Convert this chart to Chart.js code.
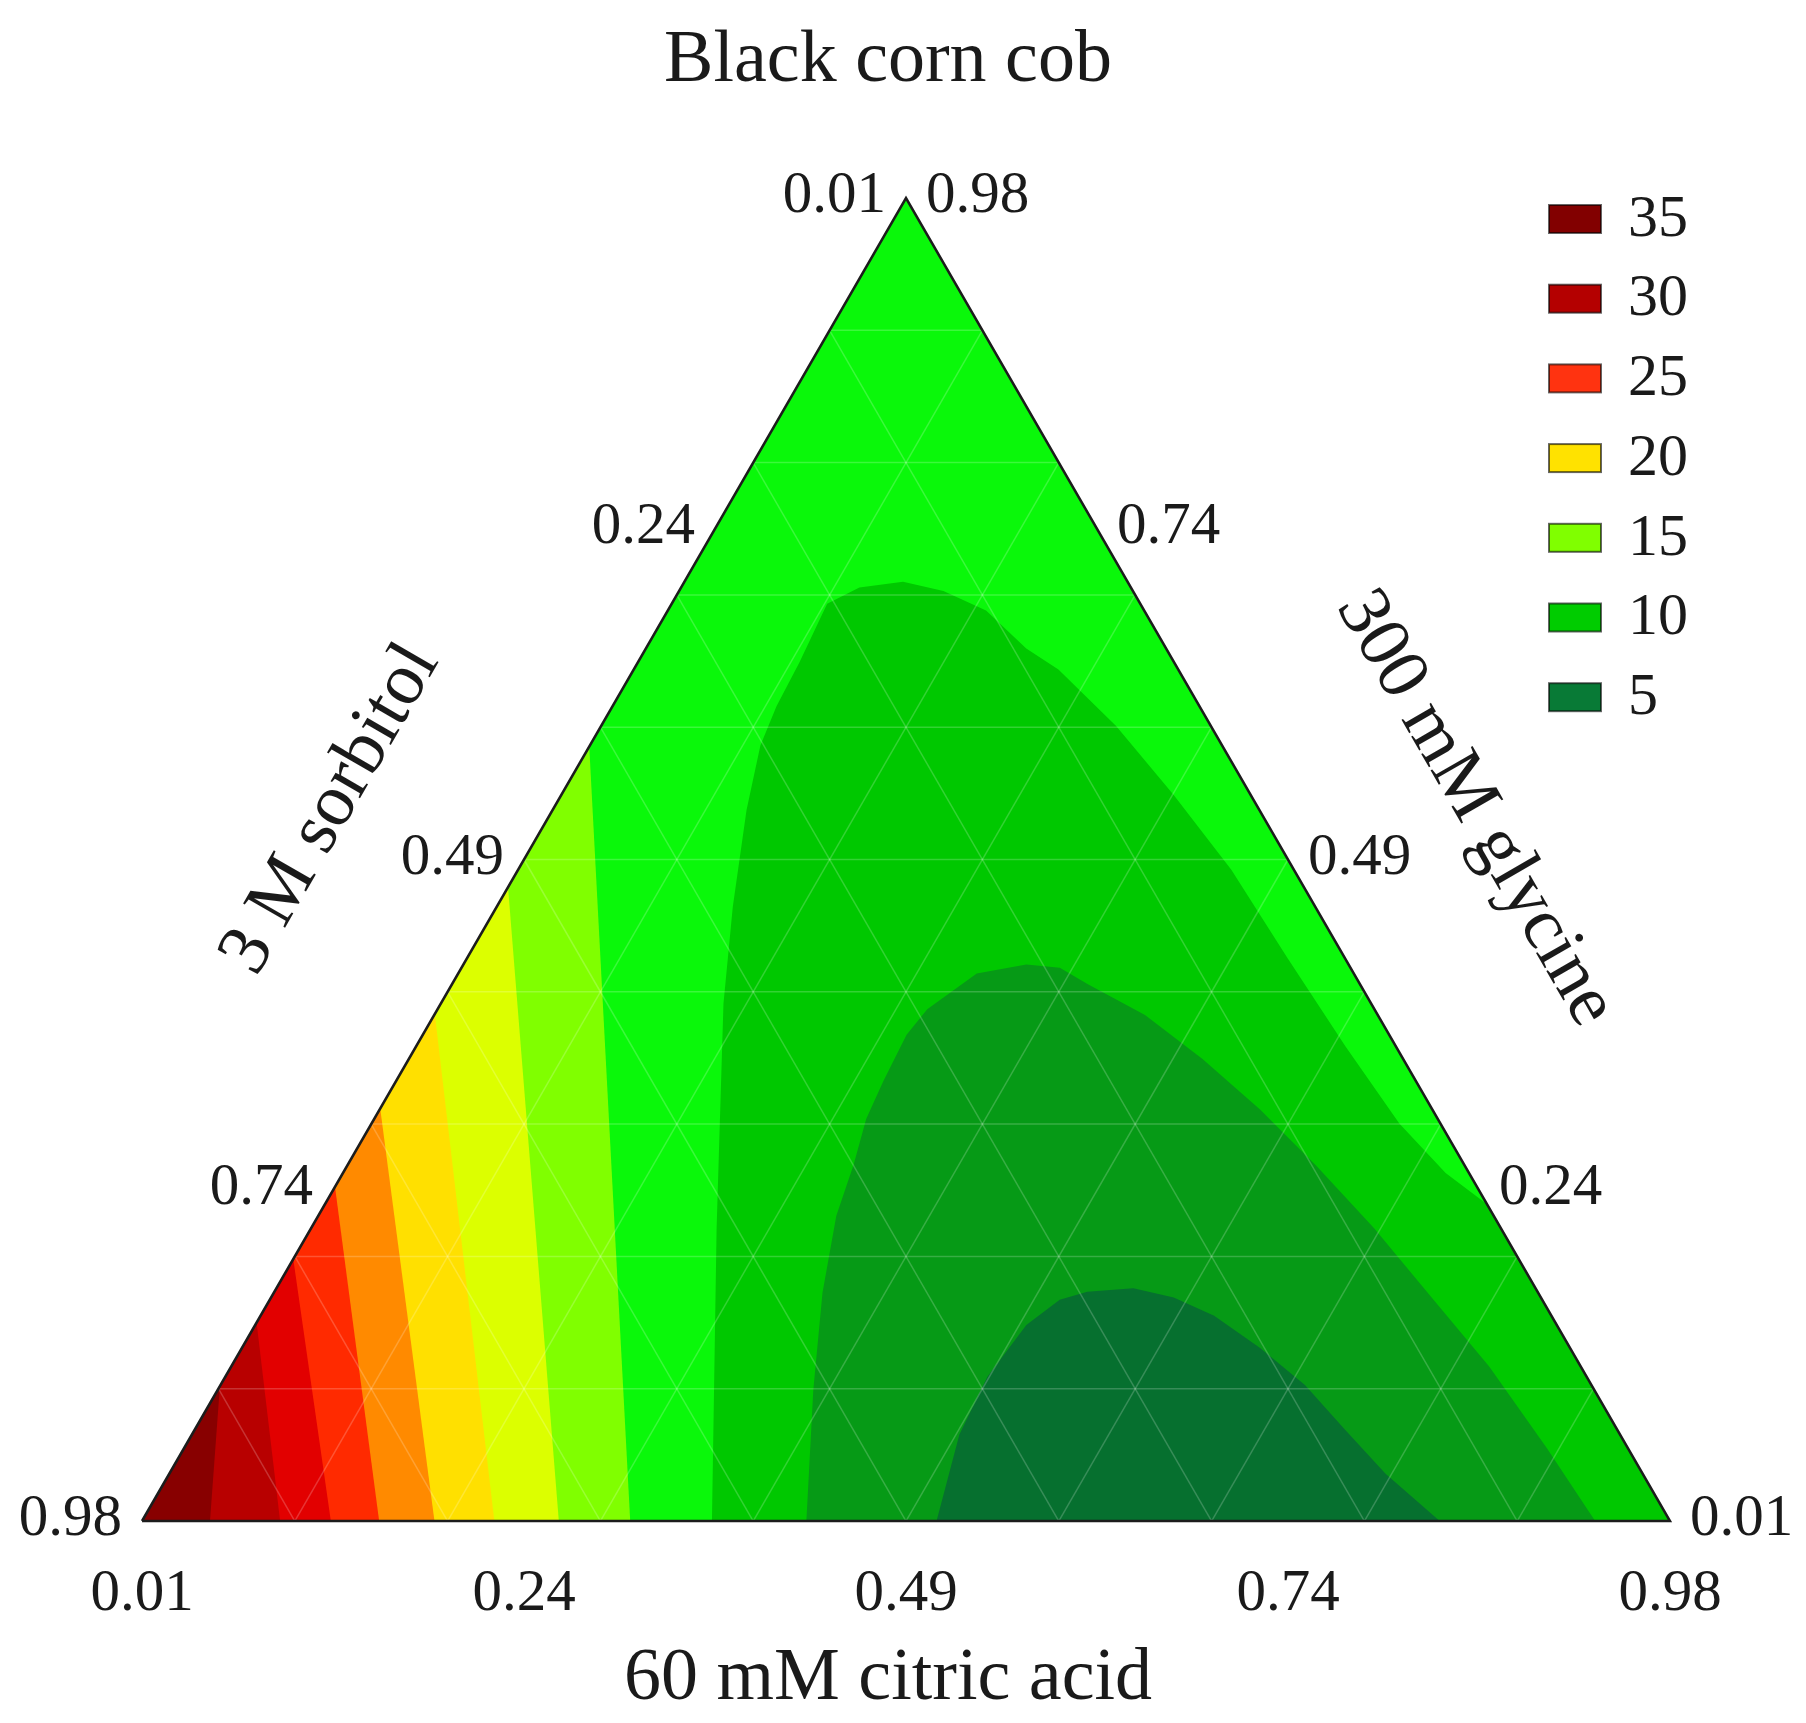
<!DOCTYPE html>
<html>
<head>
<meta charset="utf-8">
<title>Black corn cob</title>
<script src="https://cdn.jsdelivr.net/npm/chart.js@4.4.1/dist/chart.umd.min.js"></script>
<style>
  html, body { margin: 0; padding: 0; background: #fff; overflow: hidden; }
  canvas { display: block; }
</style>
</head>
<body>
<canvas id="ternaryChart" width="1806" height="1723"></canvas>
<script>
// Graduations (mêmes libellés sur les trois côtés)
const tickFractions = [0, 0.25, 0.5, 0.75, 1];
const tickLabels = ["0.01", "0.24", "0.49", "0.74", "0.98"];

// Légende
const legendLevels = ["35", "30", "25", "20", "15", "10", "5"];
const legendColors = ["#820000", "#b40000", "#ff3310", "#ffe200", "#80ff00", "#00cc00", "#087a36"];

// Couleurs des bandes, de la plus basse à la plus haute
const bandColors = [
  "#06702f", "#069a16", "#00c800", "#0af80a", "#80ff00", "#dcff00",
  "#ffe000", "#ff8a00", "#ff2a00", "#e20000", "#b80000", "#880000",
];

// Isolignes droites côté sorbitol : acide citrique sur la base, glycine sur le bord gauche
const sideCitric = [0.3195, 0.2728, 0.2306, 0.1914, 0.1552, 0.1236, 0.0904, 0.0445];
const sideGlycine = [0.5854, 0.4791, 0.3833, 0.3118, 0.2526, 0.198, 0.15, 0.102];

// Dômes [acide citrique, glycine]
const dome10 = [
  [0.373, 0], [0.3222, 0.1045], [0.2654, 0.2213], [0.185, 0.3911], [0.1545, 0.4643],
  [0.1269, 0.5375], [0.1116, 0.5862], [0.1073, 0.6159], [0.1058, 0.649], [0.1017, 0.6934],
  [0.1167, 0.7056], [0.1431, 0.7099], [0.173, 0.703], [0.2083, 0.6882], [0.249, 0.6594],
  [0.2779, 0.6437], [0.337, 0.601], [0.4008, 0.5488], [0.4668, 0.4922], [0.5373, 0.4251],
  [0.6081, 0.3589], [0.6726, 0.3005], [0.7216, 0.2631], [0.7605, 0.2395],
];
const dome7_5 = [
  [0.4348, 0], [0.3897, 0.0993], [0.3591, 0.1725], [0.339, 0.2308], [0.3311, 0.2692],
  [0.322, 0.304], [0.3189, 0.3328], [0.3166, 0.3676], [0.3205, 0.3868], [0.3394, 0.4138],
  [0.3684, 0.4207], [0.3916, 0.4181], [0.4158, 0.4059], [0.4652, 0.3824], [0.5194, 0.3493],
  [0.5762, 0.311], [0.6345, 0.2683], [0.6957, 0.2213], [0.7595, 0.169], [0.8233, 0.1167],
  [0.892, 0.0549], [0.951, 0],
];
const dome5 = [
  [0.52, 0], [0.5023, 0.0653], [0.4987, 0.1089], [0.5047, 0.1481], [0.517, 0.1672],
  [0.532, 0.1733], [0.5608, 0.176], [0.5907, 0.169], [0.6241, 0.1551], [0.6664, 0.1307],
  [0.7097, 0.1028], [0.7531, 0.0688], [0.796, 0.0357], [0.8493, 0],
];

const FONT = '"Liberation Serif", "DejaVu Serif", serif';

// composition -> coordonnées du triangle (base = 0..1, hauteur = glycine)
function toXY([citric, glycine]) {
  return { x: citric + glycine / 2, y: glycine };
}

// Couches peintes de bas en haut
const layers = [{ pts: [[0, 0], [0, 1], [1, 0]], color: bandColors[11] }];
for (let k = sideCitric.length - 1; k >= 0; k--) {
  layers.push({
    pts: [[sideCitric[k], 0], [0, sideGlycine[k]], [0, 1], [1, 0]],
    color: bandColors[3 + k],
  });
}
layers.push({ pts: dome10.concat([[1, 0]]), color: bandColors[2] });
layers.push({ pts: dome7_5, color: bandColors[1] });
layers.push({ pts: dome5, color: bandColors[0] });

const datasets = layers.map((layer, i) => ({
  data: layer.pts.map(toXY),
  showLine: true,
  fill: "shape",
  backgroundColor: layer.color,
  borderColor: "transparent",
  borderWidth: 0,
  pointRadius: 0,
  order: layers.length + 1 - i,
}));

// Contour du triangle
datasets.push({
  data: [[0, 0], [1, 0], [0, 1], [0, 0]].map(toXY),
  showLine: true,
  fill: false,
  borderColor: "#1c1c1c",
  borderWidth: 2.5,
  pointRadius: 0,
  order: 0,
  clip: false,
});
const borderIndex = datasets.length - 1;

const ternaryDecor = {
  id: "ternaryDecor",
  // grille blanche juste avant le contour
  beforeDatasetDraw(chart, args) {
    if (args.index !== borderIndex) return;
    const { ctx } = chart;
    const px = (c, g) => ({
      x: chart.scales.x.getPixelForValue(c + g / 2),
      y: chart.scales.y.getPixelForValue(g),
    });
    const seg = (a, b) => {
      ctx.beginPath();
      ctx.moveTo(a.x, a.y);
      ctx.lineTo(b.x, b.y);
      ctx.stroke();
    };
    ctx.save();
    ctx.strokeStyle = "rgba(255,255,255,0.2)";
    ctx.lineWidth = 1.5;
    for (let k = 1; k < 10; k++) {
      const v = k / 10;
      seg(px(0, v), px(1 - v, v)); // glycine constante
      seg(px(v, 0), px(v, 1 - v)); // acide citrique constant
      seg(px(1 - v, 0), px(0, 1 - v)); // sorbitol constant
    }
    ctx.restore();
  },
  afterDraw(chart) {
    const { ctx } = chart;
    const px = (c, g) => ({
      x: chart.scales.x.getPixelForValue(c + g / 2),
      y: chart.scales.y.getPixelForValue(g),
    });
    ctx.save();
    ctx.fillStyle = "#1a1a1a";

    // Titres
    ctx.font = "74px " + FONT;
    ctx.textAlign = "center";
    ctx.textBaseline = "alphabetic";
    ctx.fillText("Black corn cob", 888, 81);
    ctx.fillText("60 mM citric acid", 888, 1699);

    const mL = px(0, 0.5);
    ctx.save();
    ctx.translate(mL.x - 193, mL.y - 50);
    ctx.rotate(-Math.PI / 3);
    ctx.textBaseline = "middle";
    ctx.fillText("3 M sorbitol", 0, 0);
    ctx.restore();

    const mR = px(0.5, 0.5);
    ctx.save();
    ctx.translate(mR.x + 187, mR.y - 51);
    ctx.rotate(Math.PI / 3);
    ctx.textBaseline = "middle";
    ctx.fillText("300 mM glycine", 0, 0);
    ctx.restore();

    // Graduations
    ctx.font = "59px " + FONT;
    tickFractions.forEach((f, i) => {
      const b = px(f, 0);
      ctx.textAlign = "center";
      ctx.fillText(tickLabels[i], b.x, b.y + 89);
      const l = px(0, 1 - f);
      ctx.textAlign = "right";
      ctx.fillText(tickLabels[i], l.x - 20, l.y + 14);
      const r = px(1 - f, f);
      ctx.textAlign = "left";
      ctx.fillText(tickLabels[i], r.x + 20, r.y + 14);
    });

    // Légende
    ctx.font = "60px " + FONT;
    ctx.textBaseline = "middle";
    legendLevels.forEach((lab, i) => {
      const cy = 219 + i * 79.7;
      ctx.fillStyle = legendColors[i];
      ctx.fillRect(1549, cy - 14, 52, 28);
      ctx.strokeStyle = "rgba(0,0,0,0.6)";
      ctx.lineWidth = 2;
      ctx.strokeRect(1549, cy - 14, 52, 28);
      ctx.fillStyle = "#1a1a1a";
      ctx.textAlign = "left";
      ctx.fillText(lab, 1628, cy + 1);
    });
    ctx.restore();
  },
};

new Chart(document.getElementById("ternaryChart").getContext("2d"), {
  type: "scatter",
  data: { datasets },
  options: {
    responsive: false,
    devicePixelRatio: 1,
    animation: false,
    events: [],
    layout: { padding: { left: 142, right: 136, top: 198, bottom: 202 } },
    scales: {
      x: { type: "linear", min: 0, max: 1, display: false },
      y: { type: "linear", min: 0, max: 1, display: false },
    },
    plugins: {
      legend: { display: false },
      tooltip: { enabled: false },
      title: { display: false },
    },
  },
  plugins: [ternaryDecor],
});
</script>
</body>
</html>
